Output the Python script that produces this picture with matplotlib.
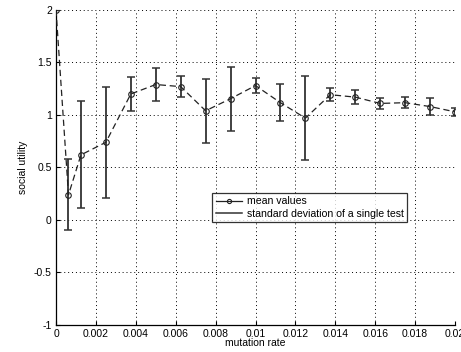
import matplotlib
matplotlib.use("Agg")
import matplotlib.pyplot as plt
from matplotlib.lines import Line2D
from matplotlib.ticker import FuncFormatter

# mutation rate (x) and social utility values
mutation_rate = [0, 0.000625, 0.00125, 0.0025, 0.00375, 0.005, 0.00625, 0.0075,
                 0.00875, 0.01, 0.01125, 0.0125, 0.01375, 0.015, 0.01625,
                 0.0175, 0.01875, 0.02]
mean_values = [2.0, 0.24, 0.62, 0.74, 1.20, 1.29, 1.27, 1.04,
               1.155, 1.28, 1.117, 0.97, 1.193, 1.17, 1.11,
               1.117, 1.08, 1.03]
std_values = [0.0, 0.34, 0.51, 0.53, 0.16, 0.155, 0.10, 0.305,
              0.305, 0.075, 0.175, 0.40, 0.06, 0.065, 0.052,
              0.05, 0.078, 0.035]

x_ticks = [0, 0.002, 0.004, 0.006, 0.008, 0.01, 0.012, 0.014, 0.016, 0.018, 0.02]
y_ticks = [-1, -0.5, 0, 0.5, 1, 1.5, 2]

plt.rcParams['font.family'] = ['Liberation Sans', 'DejaVu Sans']

fig = plt.figure(figsize=(4.61, 3.52), dpi=100)
ax = fig.add_axes([0.1215, 0.0767, 0.8655, 0.895])

# std error bars (no line)
ax.errorbar(mutation_rate, mean_values, yerr=std_values, fmt='none',
            ecolor='#333333', elinewidth=1.3, capsize=3.2, capthick=1.1,
            zorder=2)
# mean line
ax.plot(mutation_rate, mean_values, linestyle=(0, (5, 3)), color='#222222',
        linewidth=0.9, marker='o', markersize=4, markerfacecolor='none',
        markeredgecolor='#222222', markeredgewidth=0.8, zorder=3)

ax.set_xlim(0, 0.02)
ax.set_ylim(-1, 2)
ax.set_xticks(x_ticks)
ax.set_yticks(y_ticks)
ax.xaxis.set_major_formatter(FuncFormatter(lambda v, p: '%g' % round(v, 4)))
ax.yaxis.set_major_formatter(FuncFormatter(lambda v, p: '%g' % v))
ax.tick_params(direction='in', length=3, labelsize=7.5, width=0.8, pad=3)

ax.grid(True, linestyle=(0, (1, 3)), color='black', linewidth=0.7)
ax.spines['top'].set_visible(False)
ax.spines['right'].set_visible(False)
for s in ('left', 'bottom'):
    ax.spines[s].set_linewidth(0.9)

ax.set_xlabel('mutation rate', fontsize=7.5, labelpad=-1)
ax.set_ylabel('social utility', fontsize=7.5, labelpad=4)

# legend: mean line with circle marker, plain line for std
h_mean = Line2D([], [], color='#222222', linewidth=0.9, marker='o', markersize=3,
                markerfacecolor='none', markeredgewidth=0.8)
h_std = Line2D([], [], color='#333333', linewidth=1.1)
leg = ax.legend([h_mean, h_std], ['mean values', 'standard deviation of a single test'],
                loc='upper left', bbox_to_anchor=(0.392, 0.418),
                fontsize=7.6, frameon=True, fancybox=False, edgecolor='black',
                borderpad=0.3, labelspacing=0.25, handlelength=2.5,
                handletextpad=0.5, borderaxespad=0)
leg.get_frame().set_linewidth(0.9)

fig.savefig('out.png', dpi=100)
